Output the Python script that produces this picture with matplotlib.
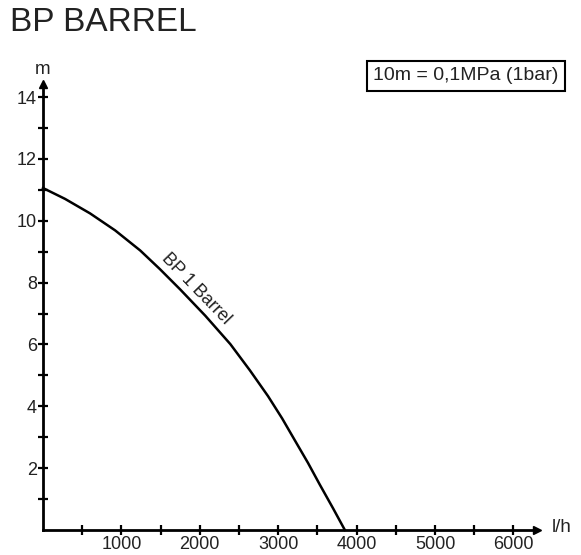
#!/usr/bin/env python3
"""Pump curve for the BP 1 Barrel: head (m) against flow (l/h)."""
import matplotlib

matplotlib.use("Agg")
import matplotlib.pyplot as plt

# curve
flow_lh = [0, 280, 600, 920, 1240, 1490, 1750, 2070, 2390, 2640, 2870, 3050, 3210, 3380, 3530, 3700, 3850]
head_m = [11.06, 10.71, 10.24, 9.69, 9.04, 8.44, 7.78, 6.93, 6.01, 5.16, 4.33, 3.61, 2.91, 2.17, 1.47, 0.70, 0.0]

x_major = [1000, 2000, 3000, 4000, 5000, 6000]
x_minor = [500, 1500, 2500, 3500, 4500, 5500]
y_major = [2, 4, 6, 8, 10, 12, 14]
y_minor = [1, 3, 5, 7, 9, 11, 13]

title = "BP BARREL"
curve_label = "BP 1 Barrel"
note = "10m = 0,1MPa (1bar)"

FONT = "Liberation Sans"
TEXT = "#222222"

plt.rcParams["font.family"] = [FONT, "DejaVu Sans"]

W, H = 581, 555
X_MAX, Y_MAX = 6300, 14.42
fig = plt.figure(figsize=(W / 100, H / 100), dpi=100)
ax = fig.add_axes([43 / W, 25 / H, X_MAX * 0.0784 / W, Y_MAX * 30.92 / H])
ax.set_xlim(0, X_MAX)
ax.set_ylim(0, Y_MAX)

for side in ("top", "right"):
    ax.spines[side].set_visible(False)
for side in ("left", "bottom"):
    ax.spines[side].set_linewidth(2)
    ax.spines[side].set_zorder(3)

# arrow heads at the axis ends
ax.plot(1, 0, ">", color="black", markersize=6, transform=ax.transAxes, clip_on=False)
ax.plot(0, 1, "^", color="black", markersize=6, transform=ax.transAxes, clip_on=False)

ax.set_xticks(x_major)
ax.set_xticks(x_minor, minor=True)
ax.set_yticks(y_major)
ax.set_yticks(y_minor, minor=True)
ax.tick_params(which="both", direction="inout", length=7, width=1.6, color="black",
               labelsize=13, labelcolor=TEXT)
ax.tick_params(axis="x", pad=1)
ax.tick_params(axis="y", pad=1)

ax.plot(flow_lh, head_m, color="black", linewidth=1.8, clip_on=False, zorder=4,
        solid_joinstyle="round")

ax.text(1952, 7.79, curve_label, rotation=-46, rotation_mode="anchor",
        ha="center", va="center", fontsize=13, color=TEXT)

fig.text(10 / W, 1 - 31 / H, title, fontsize=24, color=TEXT, ha="left", va="baseline")
fig.text(43 / W, 1 - 69 / H, "m", fontsize=13.5, color=TEXT, ha="center", va="center")
fig.text(562 / W, 1 - 527 / H, "l/h", fontsize=13.5, color=TEXT, ha="center", va="center")
fig.text(466 / W, 1 - 76 / H, note, fontsize=14, color=TEXT, ha="center", va="center",
         bbox=dict(boxstyle="square,pad=0.35", facecolor="white", edgecolor="black", linewidth=1.5))

fig.savefig("out.png", dpi=100)
